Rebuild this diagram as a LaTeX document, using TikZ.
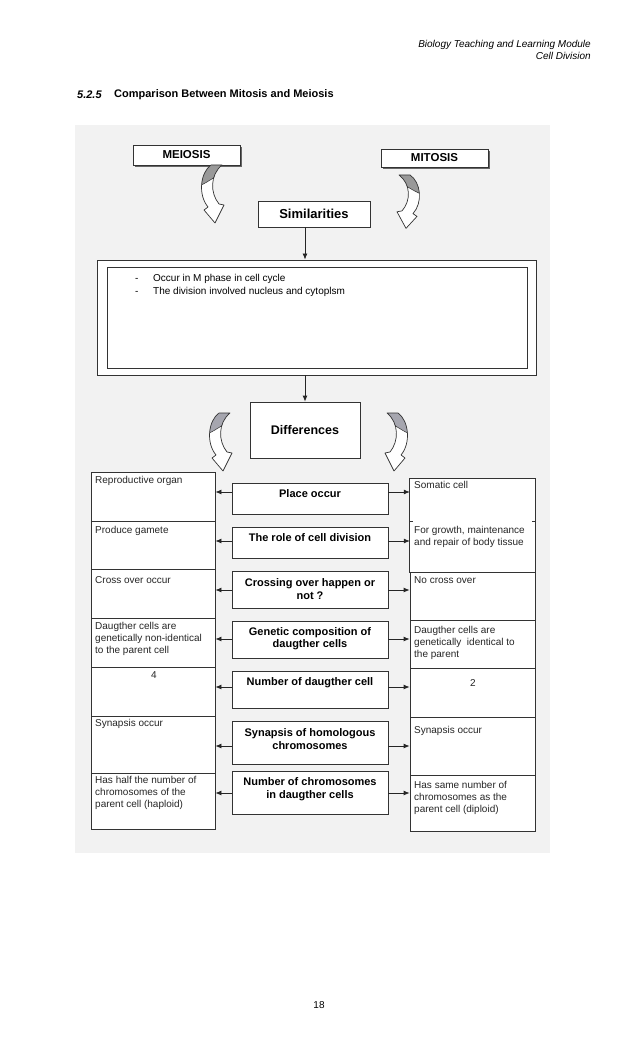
\documentclass[tikz,border=0pt]{standalone}
\usepackage{fontspec}
\setmainfont{Liberation Sans}
\usetikzlibrary{arrows.meta,fit,calc}
\begin{document}
\begin{tikzpicture}[x=1pt,y=-1pt,
  box/.style={draw=black!80, line width=0.8pt, fill=white, inner sep=0pt},
  frame/.style={inner sep=0pt},
  sidetxt/.style={anchor=north west, inner sep=0pt, align=left, font=\fontsize{10}{12}\selectfont, text=black!85},
  midtxt/.style={inner sep=0pt, align=center, font=\fontsize{11}{12.5}\selectfont\bfseries},
  bullettxt/.style={anchor=base west, inner sep=0pt, font=\fontsize{10}{12}\selectfont},
  arr/.style={-{Latex[length=6pt,width=5pt]}, line width=0.8pt, draw=black!85},
  arrowshade/.style={fill=black!40},
  carrow/.pic={
    \fill[white] (0,0) .. controls (-11,8) and (-13,30) .. (-3,42) -- (-7,45) -- (4,58) -- (13,40) -- (8,39) .. controls (-1,28) and (-1,10) .. (11,0) -- cycle;
    \begin{scope}
      \clip (0,0) .. controls (-11,8) and (-13,30) .. (-3,42) -- (-7,45) -- (4,58) -- (13,40) -- (8,39) .. controls (-1,28) and (-1,10) .. (11,0) -- cycle;
      \path[arrowshade] (-20,-2) -- (20,-2) -- (20,2) .. controls (5,10) and (-5,20) .. (-20,24) -- cycle;
      \draw[black!80, line width=0.5pt] (20,2) .. controls (5,10) and (-5,20) .. (-20,24);
    \end{scope}
    \draw[black!80, line width=0.7pt, line join=round] (0,0) .. controls (-11,8) and (-13,30) .. (-3,42) -- (-7,45) -- (4,58) -- (13,40) -- (8,39) .. controls (-1,28) and (-1,10) .. (11,0) -- cycle;
  }
]
\useasboundingbox (0,0) rectangle (638,1051);
\fill[white] (0,0) rectangle (638,1051);

% header
\node[anchor=east, inner sep=0pt, font=\fontsize{10}{12}\selectfont\itshape] (hdr1) at (591,45) {Biology Teaching and Learning Module};
\node[anchor=east, inner sep=0pt, font=\fontsize{10}{12}\selectfont\itshape] (hdr2) at (591,56) {Cell Division};
\node[anchor=west, inner sep=0pt, font=\fontsize{11}{13}\selectfont\bfseries\itshape] (secno) at (77,95) {5.2.5};
\node[anchor=west, inner sep=0pt, font=\fontsize{11}{13}\selectfont\bfseries] (sectitle) at (114,95) {Comparison Between Mitosis and Meiosis};
\node[inner sep=0pt, font=\fontsize{10}{12}\selectfont] (pageno) at (319,1005) {18};

% scanned background
\fill[black!5] (75,125) rectangle (550,853);

% top boxes
\fill[black!60] (135,147) rectangle (242,167);
\node[box, fit={(133,145) (240,165)}] (meiosis) {};
\node[inner sep=0pt, font=\fontsize{11.5}{13}\selectfont\bfseries] at (meiosis.center) {MEIOSIS};
\fill[black!60] (383,151) rectangle (490,169);
\node[box, fit={(381,149) (488,167)}] (mitosis) {};
\node[inner sep=0pt, font=\fontsize{11.5}{13}\selectfont\bfseries] at (mitosis.center) {MITOSIS};

\pic at (211,165) {carrow};
\pic[xscale=-1, yscale=0.92] at (410,175) {carrow};

\node[box, fit={(258,201) (370,227)}] (sim) {};
\node[inner sep=0pt, font=\fontsize{13}{15}\selectfont\bfseries] at (sim.center) {Similarities};

% similarities frame
\node[box, line width=0.9pt, fit={(97,260) (536,375)}] (big) {};
\node[box, fit={(107,267) (527,368)}] (bigin) {};
\node[bullettxt] at (135,281) {-};
\node[bullettxt] at (153,281) {Occur in M phase in cell cycle};
\node[bullettxt] at (135,294) {-};
\node[bullettxt] at (153,294) {The division involved nucleus and cytoplsm};

% differences
\node[box, fit={(250,402) (360,458)}] (diff) {};
\node[inner sep=0pt, font=\fontsize{12.5}{15}\selectfont\bfseries] at (diff.center) {Differences};

\draw[arr] (sim.south -| diff.north) -- (big.north -| diff.north);
\draw[arr] (big.south -| diff.north) -- (diff.north);

\pic[arrowshade/.style={fill=blue!10!black!35}] at (219,413) {carrow};
\pic[xscale=-1, arrowshade/.style={fill=blue!10!black!35}] at (398,413) {carrow};

% left column
\node[box, fit={(91,472) (215,521)}] (L1) {};
\node[box, fit={(91,521) (215,569)}] (L2) {};
\node[box, fit={(91,569) (215,618)}] (L3) {};
\node[box, fit={(91,618) (215,667)}] (L4) {};
\node[box, fit={(91,667) (215,716)}] (L5) {};
\node[box, fit={(91,716) (215,773)}] (L6) {};
\node[box, fit={(91,773) (215,829)}] (L7) {};

\node[sidetxt] at (95,476) {Reproductive organ};
\node[sidetxt] at (95,526) {Produce gamete};
\node[sidetxt] at (95,576) {Cross over occur};
\node[sidetxt] at (95,622) {Daugther cells are\\genetically non-identical\\to the parent cell};
\node[inner sep=0pt, font=\fontsize{10}{12}\selectfont, text=black!85] at (154,675) {4};
\node[sidetxt] at (95,719) {Synapsis occur};
\node[sidetxt] at (95,776) {Has half the number of\\chromosomes of the\\parent cell (haploid)};

% right column
\node[frame, fit={(410,479) (535,522)}] (R1) {};
\node[frame, fit={(410,522) (535,572)}] (R2) {};
\fill[white] (R1.north west) rectangle (R2.south east);
\draw[draw=black!80, line width=0.8pt] (R1.north west) rectangle (R2.south east);
\draw[draw=black!80, line width=0.8pt] (R2.north west) -- ++(3,0);
\draw[draw=black!80, line width=0.8pt] (R2.north east) -- ++(-3,0);
\node[box, fit={(410,572) (535,620)}] (R3) {};
\node[box, fit={(410,620) (535,668)}] (R4) {};
\node[box, fit={(410,668) (535,717)}] (R5) {};
\node[box, fit={(410,717) (535,775)}] (R6) {};
\node[box, fit={(410,775) (535,831)}] (R7) {};

\node[sidetxt] at (414,481) {Somatic cell};
\node[sidetxt] at (414,526) {For growth, maintenance\\and repair of body tissue};
\node[sidetxt] at (414,576) {No cross over};
\node[sidetxt] at (414,626) {Daugther cells are\\genetically\ \ identical to\\the parent};
\node[inner sep=0pt, font=\fontsize{10}{12}\selectfont, text=black!85] at (473,683) {2};
\node[sidetxt] at (414,726) {Synapsis occur};
\node[sidetxt] at (414,781) {Has same number of\\chromosomes as the\\parent cell (diploid)};

% middle column
\node[box, fit={(232,483) (388,514)}] (M1) {};
\node[box, fit={(232,527) (388,558)}] (M2) {};
\node[box, fit={(232,571) (388,608)}] (M3) {};
\node[box, fit={(232,621) (388,658)}] (M4) {};
\node[box, fit={(232,671) (388,708)}] (M5) {};
\node[box, fit={(232,721) (388,764)}] (M6) {};
\node[box, fit={(232,771) (388,814)}] (M7) {};

\node[midtxt] at (310,494) {Place occur};
\node[midtxt] at (310,538) {The role of cell division};
\node[midtxt] at (310,589) {Crossing over happen or\\not ?};
\node[midtxt] at (310,638.5) {Genetic composition of\\daugther cells};
\node[midtxt] at (310,683) {Number of daugther cell};
\node[midtxt] at (310,739) {Synapsis of homologous\\chromosomes};
\node[midtxt] at (310,789) {Number of chromosomes\\in daugther cells};

% connectors
\draw[arr] (M1.west |- 0,492) -- (L1.east |- 0,492);
\draw[arr] (M1.east |- 0,492) -- (R1.west |- 0,492);
\draw[arr] (M2.west |- 0,541) -- (L2.east |- 0,541);
\draw[arr] (M2.east |- 0,541) -- (R2.west |- 0,541);
\draw[arr] (M3.west |- 0,590) -- (L3.east |- 0,590);
\draw[arr] (M3.east |- 0,590) -- (R3.west |- 0,590);
\draw[arr] (M4.west |- 0,639) -- (L4.east |- 0,639);
\draw[arr] (M4.east |- 0,639) -- (R4.west |- 0,639);
\draw[arr] (M5.west |- 0,687) -- (L5.east |- 0,687);
\draw[arr] (M5.east |- 0,687) -- (R5.west |- 0,687);
\draw[arr] (M6.west |- 0,746) -- (L6.east |- 0,746);
\draw[arr] (M6.east |- 0,746) -- (R6.west |- 0,746);
\draw[arr] (M7.west |- 0,793) -- (L7.east |- 0,793);
\draw[arr] (M7.east |- 0,793) -- (R7.west |- 0,793);
\end{tikzpicture}
\end{document}
